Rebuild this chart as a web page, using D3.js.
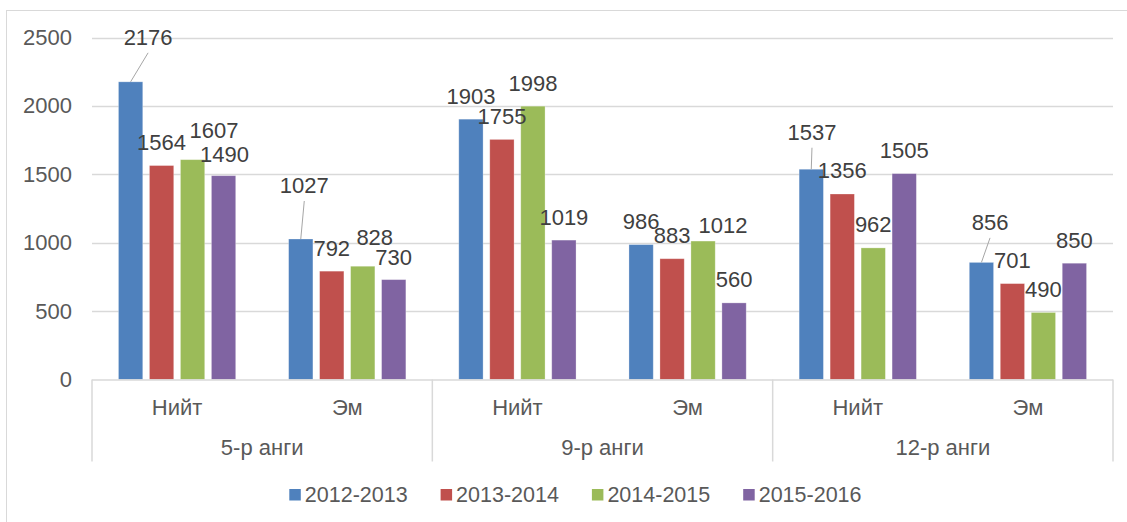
<!DOCTYPE html>
<html>
<head>
<meta charset="utf-8">
<script src="https://cdn.jsdelivr.net/npm/d3@7"></script>
<style>
  html, body { margin: 0; padding: 0; background: #fff; }
  svg { display: block; font-family: "Liberation Sans", Arial, sans-serif; }
</style>
</head>
<body>
<svg id="chart" width="1127" height="522"></svg>
<script>
// ---- data ----
const grades = ["5-р анги", "9-р анги", "12-р анги"];
const subCats = ["Нийт", "Эм"];
const seriesNames = ["2012-2013", "2013-2014", "2014-2015", "2015-2016"];
// values in order: 5 Нийт, 5 Эм, 9 Нийт, 9 Эм, 12 Нийт, 12 Эм
const s2012_2013 = [2176, 1027, 1903, 986, 1537, 856];
const s2013_2014 = [1564, 792, 1755, 883, 1356, 701];
const s2014_2015 = [1607, 828, 1998, 1012, 962, 490];
const s2015_2016 = [1490, 730, 1019, 560, 1505, 850];
const yTicks = [0, 500, 1000, 1500, 2000, 2500];
const colors = ["#4f81bd", "#c0504d", "#9bbb59", "#8064a2"];

// label nudges (layout only): [series, category, dx, dy, leaderLine]
const labelNudges = [
  [0, 0, 17.5, -21.5, true],
  [2, 0, 21.5, -6.5, false],
  [3, 0, 1, 1.5, false],
  [0, 1, 3.5, -30.5, true],
  [2, 1, 12, -5.5, false],
  [3, 1, 0, 1, false],
  [2, 3, 20, 7, false],
  [0, 4, 0.7, -14, true],
  [0, 5, 8.6, -17, true]
];

(function () {
const seriesValues = [s2012_2013, s2013_2014, s2014_2015, s2015_2016];
const catKeys = [];
grades.forEach((g, gi) => subCats.forEach((s, si) => catKeys.push(gi + "|" + si)));

const svg = d3.select("#chart");
const plotL = 92, plotR = 1113, plotT = 37.5, plotB = 379.5;
const gridColor = "#d9d9d9";
const textColor = "#595959";
const labelColor = "#404040";

// outer border
svg.append("rect").attr("x", 6.5).attr("y", 10.5).attr("width", 1140).attr("height", 530)
  .attr("fill", "none").attr("stroke", gridColor).attr("stroke-width", 1);

const y = d3.scaleLinear().domain([0, 2500]).range([plotB, plotT]);
const x0 = d3.scaleBand().domain(catKeys).range([plotL, plotR]).paddingInner(0.311).paddingOuter(0.1555);
const x1 = d3.scaleBand().domain(seriesNames).range([0, x0.bandwidth()]).paddingInner(0.216).paddingOuter(0);
const xCat = d3.scaleBand().domain(catKeys).range([plotL, plotR]);
const xGrade = d3.scaleBand().domain(grades).range([plotL, plotR]);

// gridlines
svg.append("g").selectAll("line").data(yTicks.filter(t => t > 0)).join("line")
  .attr("x1", plotL).attr("x2", plotR)
  .attr("y1", d => Math.round(y(d)) + 0.5).attr("y2", d => Math.round(y(d)) + 0.5)
  .attr("stroke", gridColor).attr("stroke-width", 1.3);

// y axis labels
const yAxis = d3.axisLeft(y).tickValues(yTicks).tickSize(0).tickPadding(20).tickFormat(d3.format("d"));
const yg = svg.append("g").attr("transform", `translate(${plotL},0)`).call(yAxis);
yg.select(".domain").remove();
yg.selectAll("text").attr("fill", textColor).attr("font-size", 22)
  .attr("font-family", "'Liberation Sans', Arial, sans-serif");

// bars
const barData = [];
seriesValues.forEach((vals, si) => vals.forEach((v, ci) => barData.push({ si, ci, v })));
svg.append("g").selectAll("rect").data(barData).join("rect")
  .attr("x", d => x0(catKeys[d.ci]) + x1(seriesNames[d.si]))
  .attr("width", x1.bandwidth())
  .attr("y", d => y(d.v))
  .attr("height", d => y(0) - y(d.v))
  .attr("fill", d => colors[d.si])
  .attr("stroke", "#ffffff").attr("stroke-opacity", 0.35).attr("stroke-width", 0.8);

// x axis line + separators
const axisG = svg.append("g");
axisG.append("line").attr("x1", plotL).attr("x2", plotR).attr("y1", plotB + 0.5).attr("y2", plotB + 0.5)
  .attr("stroke", gridColor).attr("stroke-width", 1.5);
const sepX = grades.map(g => xGrade(g)).concat([plotR]);
axisG.selectAll("line.sep").data(sepX).join("line").attr("class", "sep")
  .attr("x1", d => d).attr("x2", d => d).attr("y1", plotB).attr("y2", 461.5)
  .attr("stroke", gridColor).attr("stroke-width", 1.5);

// sub category labels
axisG.selectAll("text.sub").data(catKeys).join("text").attr("class", "sub")
  .attr("x", d => xCat(d) + xCat.bandwidth() / 2).attr("y", 415)
  .attr("text-anchor", "middle").attr("font-size", 22).attr("fill", textColor)
  .text(d => subCats[+d.split("|")[1]]);
// grade labels
axisG.selectAll("text.grade").data(grades).join("text").attr("class", "grade")
  .attr("x", d => xGrade(d) + xGrade.bandwidth() / 2).attr("y", 455)
  .attr("text-anchor", "middle").attr("font-size", 22).attr("fill", textColor)
  .text(d => d);

// data labels
const nudgeMap = {};
labelNudges.forEach(n => nudgeMap[n[0] + "_" + n[1]] = n);
const lblG = svg.append("g");
barData.forEach(d => {
  const cx = x0(catKeys[d.ci]) + x1(seriesNames[d.si]) + x1.bandwidth() / 2;
  const yTop = y(d.v);
  const n = nudgeMap[d.si + "_" + d.ci];
  const dx = n ? n[2] : 0, dy = n ? n[3] : 0;
  const lx = cx + dx, ly = yTop - 15.5 + dy;
  if (n && n[4]) {
    lblG.append("line").attr("x1", cx).attr("y1", yTop).attr("x2", lx).attr("y2", ly + 8)
      .attr("stroke", "#a6a6a6").attr("stroke-width", 1);
  }
  lblG.append("text").attr("x", lx).attr("y", ly).attr("text-anchor", "middle")
    .attr("font-size", 22).attr("fill", labelColor).text(d.v);
});

// legend
const legG = svg.append("g");
const legStart = 289.3, legStep = 151.3;
seriesNames.forEach((s, i) => {
  const gx = legStart + i * legStep;
  legG.append("rect").attr("x", gx).attr("y", 489).attr("width", 11.5).attr("height", 11.5).attr("fill", colors[i]);
  legG.append("text").attr("x", gx + 15.5).attr("y", 501.5).attr("font-size", 21.5).attr("fill", textColor).text(s);
});
})();
</script>
</body>
</html>
